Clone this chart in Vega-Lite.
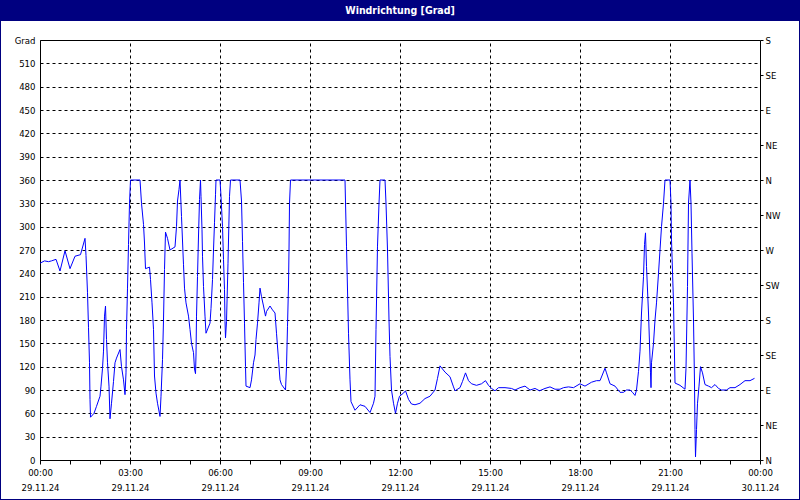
{
  "$schema": "https://vega.github.io/schema/vega-lite/v6.json",
  "width": 798,
  "height": 478,
  "autosize": {"type": "none"},
  "padding": {"left": 1, "top": 21, "right": 1, "bottom": 1},
  "background": "#000080",
  "view": {"fill": "white", "stroke": null},
  "title": {"text": "Windrichtung [Grad]", "color": "white", "fontSize": 10.5, "fontWeight": "bold", "font": "DejaVu Sans Condensed, Liberation Sans", "anchor": "middle", "baseline": "middle", "offset": 0},
  "config": {
    "font": "DejaVu Sans Condensed, Liberation Sans",
    "axis": {"labelFont": "DejaVu Sans Condensed, Liberation Sans", "labelFontSize": 9.5, "labelColor": "black", "domainColor": "black", "tickColor": "black", "title": null, "labelOverlap": false, "labelFlush": false, "labelBound": false}
  },
  "data": {"values": [
    {"t":"2024-11-29T00:00Z","v":253},{"t":"2024-11-29T00:09Z","v":256},{"t":"2024-11-29T00:17Z","v":255},{"t":"2024-11-29T00:23Z","v":256},
    {"t":"2024-11-29T00:32Z","v":258},{"t":"2024-11-29T00:40Z","v":243},{"t":"2024-11-29T00:50Z","v":269},{"t":"2024-11-29T01:00Z","v":246},
    {"t":"2024-11-29T01:10Z","v":262},{"t":"2024-11-29T01:21Z","v":264},{"t":"2024-11-29T01:30Z","v":285},{"t":"2024-11-29T01:32Z","v":263},
    {"t":"2024-11-29T01:35Z","v":215},{"t":"2024-11-29T01:37Z","v":170},{"t":"2024-11-29T01:39Z","v":125},{"t":"2024-11-29T01:40Z","v":78},
    {"t":"2024-11-29T01:41Z","v":55},{"t":"2024-11-29T01:48Z","v":60},{"t":"2024-11-29T01:53Z","v":69},{"t":"2024-11-29T02:00Z","v":82},
    {"t":"2024-11-29T02:02Z","v":95},{"t":"2024-11-29T02:05Z","v":118},{"t":"2024-11-29T02:07Z","v":140},{"t":"2024-11-29T02:09Z","v":185},
    {"t":"2024-11-29T02:11Z","v":198},{"t":"2024-11-29T02:13Z","v":155},{"t":"2024-11-29T02:15Z","v":125},{"t":"2024-11-29T02:18Z","v":95},
    {"t":"2024-11-29T02:20Z","v":53},{"t":"2024-11-29T02:23Z","v":73},{"t":"2024-11-29T02:27Z","v":101},{"t":"2024-11-29T02:30Z","v":125},
    {"t":"2024-11-29T02:33Z","v":131},{"t":"2024-11-29T02:40Z","v":142},{"t":"2024-11-29T02:43Z","v":120},{"t":"2024-11-29T02:47Z","v":103},
    {"t":"2024-11-29T02:50Z","v":84},{"t":"2024-11-29T02:52Z","v":112},{"t":"2024-11-29T02:53Z","v":168},{"t":"2024-11-29T02:55Z","v":221},
    {"t":"2024-11-29T02:57Z","v":277},{"t":"2024-11-29T02:59Z","v":330},{"t":"2024-11-29T03:01Z","v":360},{"t":"2024-11-29T03:20Z","v":360},
    {"t":"2024-11-29T03:23Z","v":330},{"t":"2024-11-29T03:27Z","v":303},{"t":"2024-11-29T03:29Z","v":279},{"t":"2024-11-29T03:31Z","v":246},
    {"t":"2024-11-29T03:39Z","v":248},{"t":"2024-11-29T03:41Z","v":232},{"t":"2024-11-29T03:44Z","v":202},{"t":"2024-11-29T03:47Z","v":168},
    {"t":"2024-11-29T03:49Z","v":108},{"t":"2024-11-29T03:52Z","v":86},{"t":"2024-11-29T03:55Z","v":73},{"t":"2024-11-29T04:00Z","v":56},
    {"t":"2024-11-29T04:02Z","v":82},{"t":"2024-11-29T04:05Z","v":129},{"t":"2024-11-29T04:07Z","v":180},{"t":"2024-11-29T04:09Z","v":245},
    {"t":"2024-11-29T04:11Z","v":293},{"t":"2024-11-29T04:15Z","v":285},{"t":"2024-11-29T04:20Z","v":270},{"t":"2024-11-29T04:30Z","v":274},
    {"t":"2024-11-29T04:33Z","v":300},{"t":"2024-11-29T04:35Z","v":333},{"t":"2024-11-29T04:38Z","v":348},{"t":"2024-11-29T04:40Z","v":360},
    {"t":"2024-11-29T04:43Z","v":313},{"t":"2024-11-29T04:47Z","v":251},{"t":"2024-11-29T04:49Z","v":221},{"t":"2024-11-29T04:52Z","v":202},
    {"t":"2024-11-29T04:57Z","v":185},{"t":"2024-11-29T05:00Z","v":168},{"t":"2024-11-29T05:03Z","v":150},{"t":"2024-11-29T05:07Z","v":138},
    {"t":"2024-11-29T05:09Z","v":117},{"t":"2024-11-29T05:11Z","v":111},{"t":"2024-11-29T05:12Z","v":135},{"t":"2024-11-29T05:13Z","v":185},
    {"t":"2024-11-29T05:15Z","v":236},{"t":"2024-11-29T05:17Z","v":288},{"t":"2024-11-29T05:19Z","v":335},{"t":"2024-11-29T05:21Z","v":360},
    {"t":"2024-11-29T05:22Z","v":339},{"t":"2024-11-29T05:24Z","v":296},{"t":"2024-11-29T05:25Z","v":262},{"t":"2024-11-29T05:27Z","v":223},
    {"t":"2024-11-29T05:30Z","v":185},{"t":"2024-11-29T05:32Z","v":163},{"t":"2024-11-29T05:40Z","v":176},{"t":"2024-11-29T05:42Z","v":195},
    {"t":"2024-11-29T05:45Z","v":232},{"t":"2024-11-29T05:47Z","v":270},{"t":"2024-11-29T05:49Z","v":305},{"t":"2024-11-29T05:51Z","v":341},
    {"t":"2024-11-29T05:52Z","v":360},{"t":"2024-11-29T06:00Z","v":360},{"t":"2024-11-29T06:02Z","v":339},{"t":"2024-11-29T06:05Z","v":300},
    {"t":"2024-11-29T06:07Z","v":258},{"t":"2024-11-29T06:09Z","v":219},{"t":"2024-11-29T06:10Z","v":178},{"t":"2024-11-29T06:11Z","v":157},
    {"t":"2024-11-29T06:13Z","v":178},{"t":"2024-11-29T06:16Z","v":253},{"t":"2024-11-29T06:19Z","v":339},{"t":"2024-11-29T06:21Z","v":360},
    {"t":"2024-11-29T06:40Z","v":360},{"t":"2024-11-29T06:43Z","v":333},{"t":"2024-11-29T06:45Z","v":281},{"t":"2024-11-29T06:47Z","v":228},
    {"t":"2024-11-29T06:49Z","v":176},{"t":"2024-11-29T06:51Z","v":120},{"t":"2024-11-29T06:52Z","v":95},{"t":"2024-11-29T07:00Z","v":93},
    {"t":"2024-11-29T07:03Z","v":103},{"t":"2024-11-29T07:07Z","v":125},{"t":"2024-11-29T07:10Z","v":135},{"t":"2024-11-29T07:12Z","v":155},
    {"t":"2024-11-29T07:15Z","v":176},{"t":"2024-11-29T07:18Z","v":202},{"t":"2024-11-29T07:20Z","v":221},{"t":"2024-11-29T07:23Z","v":210},
    {"t":"2024-11-29T07:27Z","v":198},{"t":"2024-11-29T07:31Z","v":185},{"t":"2024-11-29T07:33Z","v":191},{"t":"2024-11-29T07:40Z","v":198},
    {"t":"2024-11-29T07:45Z","v":193},{"t":"2024-11-29T07:50Z","v":189},{"t":"2024-11-29T07:53Z","v":163},{"t":"2024-11-29T07:57Z","v":129},
    {"t":"2024-11-29T08:00Z","v":103},{"t":"2024-11-29T08:03Z","v":97},{"t":"2024-11-29T08:11Z","v":90},{"t":"2024-11-29T08:13Z","v":120},
    {"t":"2024-11-29T08:15Z","v":172},{"t":"2024-11-29T08:17Z","v":225},{"t":"2024-11-29T08:18Z","v":270},{"t":"2024-11-29T08:19Z","v":330},
    {"t":"2024-11-29T08:21Z","v":360},{"t":"2024-11-29T10:10Z","v":360},{"t":"2024-11-29T10:13Z","v":275},{"t":"2024-11-29T10:17Z","v":163},
    {"t":"2024-11-29T10:20Z","v":103},{"t":"2024-11-29T10:22Z","v":75},{"t":"2024-11-29T10:30Z","v":64},{"t":"2024-11-29T10:40Z","v":71},
    {"t":"2024-11-29T10:50Z","v":69},{"t":"2024-11-29T11:00Z","v":61},{"t":"2024-11-29T11:07Z","v":73},{"t":"2024-11-29T11:10Z","v":82},
    {"t":"2024-11-29T11:12Z","v":168},{"t":"2024-11-29T11:15Z","v":275},{"t":"2024-11-29T11:18Z","v":330},{"t":"2024-11-29T11:20Z","v":360},
    {"t":"2024-11-29T11:30Z","v":360},{"t":"2024-11-29T11:32Z","v":330},{"t":"2024-11-29T11:35Z","v":270},{"t":"2024-11-29T11:38Z","v":180},
    {"t":"2024-11-29T11:40Z","v":133},{"t":"2024-11-29T11:43Z","v":90},{"t":"2024-11-29T11:47Z","v":73},{"t":"2024-11-29T11:51Z","v":60},
    {"t":"2024-11-29T11:55Z","v":73},{"t":"2024-11-29T11:59Z","v":82},{"t":"2024-11-29T12:07Z","v":86},{"t":"2024-11-29T12:11Z","v":89},
    {"t":"2024-11-29T12:17Z","v":78},{"t":"2024-11-29T12:23Z","v":72},{"t":"2024-11-29T12:30Z","v":71},{"t":"2024-11-29T12:40Z","v":73},
    {"t":"2024-11-29T12:50Z","v":79},{"t":"2024-11-29T13:00Z","v":82},{"t":"2024-11-29T13:10Z","v":90},{"t":"2024-11-29T13:15Z","v":105},
    {"t":"2024-11-29T13:20Z","v":121},{"t":"2024-11-29T13:30Z","v":113},{"t":"2024-11-29T13:40Z","v":107},{"t":"2024-11-29T13:47Z","v":94},
    {"t":"2024-11-29T13:50Z","v":89},{"t":"2024-11-29T14:00Z","v":93},{"t":"2024-11-29T14:05Z","v":101},{"t":"2024-11-29T14:11Z","v":112},
    {"t":"2024-11-29T14:17Z","v":102},{"t":"2024-11-29T14:23Z","v":98},{"t":"2024-11-29T14:33Z","v":96},{"t":"2024-11-29T14:43Z","v":98},
    {"t":"2024-11-29T14:51Z","v":102},{"t":"2024-11-29T14:57Z","v":96},{"t":"2024-11-29T15:03Z","v":92},{"t":"2024-11-29T15:10Z","v":89},
    {"t":"2024-11-29T15:17Z","v":93},{"t":"2024-11-29T15:30Z","v":93},{"t":"2024-11-29T15:43Z","v":92},{"t":"2024-11-29T15:50Z","v":90},
    {"t":"2024-11-29T16:00Z","v":93},{"t":"2024-11-29T16:10Z","v":95},{"t":"2024-11-29T16:20Z","v":90},{"t":"2024-11-29T16:30Z","v":92},
    {"t":"2024-11-29T16:39Z","v":89},{"t":"2024-11-29T16:50Z","v":92},{"t":"2024-11-29T17:00Z","v":94},{"t":"2024-11-29T17:10Z","v":91},
    {"t":"2024-11-29T17:20Z","v":91},{"t":"2024-11-29T17:27Z","v":93},{"t":"2024-11-29T17:37Z","v":94},{"t":"2024-11-29T17:47Z","v":93},
    {"t":"2024-11-29T18:00Z","v":98},{"t":"2024-11-29T18:10Z","v":95},{"t":"2024-11-29T18:23Z","v":100},{"t":"2024-11-29T18:33Z","v":102},
    {"t":"2024-11-29T18:40Z","v":102},{"t":"2024-11-29T18:50Z","v":118},{"t":"2024-11-29T18:53Z","v":112},{"t":"2024-11-29T19:00Z","v":98},
    {"t":"2024-11-29T19:10Z","v":95},{"t":"2024-11-29T19:20Z","v":87},{"t":"2024-11-29T19:27Z","v":87},{"t":"2024-11-29T19:33Z","v":90},
    {"t":"2024-11-29T19:40Z","v":90},{"t":"2024-11-29T19:45Z","v":87},{"t":"2024-11-29T19:50Z","v":83},{"t":"2024-11-29T19:53Z","v":90},
    {"t":"2024-11-29T19:57Z","v":114},{"t":"2024-11-29T20:00Z","v":140},{"t":"2024-11-29T20:03Z","v":189},{"t":"2024-11-29T20:07Z","v":236},
    {"t":"2024-11-29T20:09Z","v":277},{"t":"2024-11-29T20:11Z","v":292},{"t":"2024-11-29T20:13Z","v":249},{"t":"2024-11-29T20:17Z","v":189},
    {"t":"2024-11-29T20:19Z","v":150},{"t":"2024-11-29T20:21Z","v":112},{"t":"2024-11-29T20:22Z","v":93},{"t":"2024-11-29T20:23Z","v":125},
    {"t":"2024-11-29T20:27Z","v":150},{"t":"2024-11-29T20:30Z","v":180},{"t":"2024-11-29T20:33Z","v":202},{"t":"2024-11-29T20:37Z","v":240},
    {"t":"2024-11-29T20:40Z","v":270},{"t":"2024-11-29T20:43Z","v":300},{"t":"2024-11-29T20:47Z","v":330},{"t":"2024-11-29T20:50Z","v":360},
    {"t":"2024-11-29T21:00Z","v":360},{"t":"2024-11-29T21:02Z","v":330},{"t":"2024-11-29T21:03Z","v":283},{"t":"2024-11-29T21:07Z","v":202},
    {"t":"2024-11-29T21:10Z","v":99},{"t":"2024-11-29T21:20Z","v":96},{"t":"2024-11-29T21:30Z","v":91},{"t":"2024-11-29T21:32Z","v":118},
    {"t":"2024-11-29T21:35Z","v":223},{"t":"2024-11-29T21:37Z","v":330},{"t":"2024-11-29T21:40Z","v":360},{"t":"2024-11-29T21:42Z","v":330},
    {"t":"2024-11-29T21:44Z","v":266},{"t":"2024-11-29T21:47Z","v":180},{"t":"2024-11-29T21:49Z","v":99},{"t":"2024-11-29T21:50Z","v":39},
    {"t":"2024-11-29T21:51Z","v":4},{"t":"2024-11-29T21:53Z","v":39},{"t":"2024-11-29T21:55Z","v":73},{"t":"2024-11-29T21:58Z","v":95},
    {"t":"2024-11-29T22:01Z","v":120},{"t":"2024-11-29T22:05Z","v":112},{"t":"2024-11-29T22:10Z","v":97},{"t":"2024-11-29T22:17Z","v":95},
    {"t":"2024-11-29T22:23Z","v":93},{"t":"2024-11-29T22:30Z","v":97},{"t":"2024-11-29T22:37Z","v":92},{"t":"2024-11-29T22:43Z","v":90},
    {"t":"2024-11-29T22:53Z","v":90},{"t":"2024-11-29T23:00Z","v":93},{"t":"2024-11-29T23:10Z","v":93},{"t":"2024-11-29T23:20Z","v":97},
    {"t":"2024-11-29T23:30Z","v":102},{"t":"2024-11-29T23:40Z","v":102},{"t":"2024-11-29T23:49Z","v":105}
  ]},
  "layer": [
    {
      "mark": {"type": "line", "color": "#0000FF", "strokeWidth": 1},
      "encoding": {
        "x": {
          "field": "t", "type": "temporal",
          "scale": {"type": "utc", "range": [39, 759], "domain": [{"year": 2024, "month": 11, "date": 29, "utc": true}, {"year": 2024, "month": 11, "date": 30, "utc": true}]},
          "axis": {
            "orient": "bottom", "offset": -39, "grid": false,
            "values": [
              {"year": 2024, "month": 11, "date": 29, "hours": 0, "utc": true}, {"year": 2024, "month": 11, "date": 29, "hours": 1, "utc": true},
              {"year": 2024, "month": 11, "date": 29, "hours": 2, "utc": true}, {"year": 2024, "month": 11, "date": 29, "hours": 3, "utc": true},
              {"year": 2024, "month": 11, "date": 29, "hours": 4, "utc": true}, {"year": 2024, "month": 11, "date": 29, "hours": 5, "utc": true},
              {"year": 2024, "month": 11, "date": 29, "hours": 6, "utc": true}, {"year": 2024, "month": 11, "date": 29, "hours": 7, "utc": true},
              {"year": 2024, "month": 11, "date": 29, "hours": 8, "utc": true}, {"year": 2024, "month": 11, "date": 29, "hours": 9, "utc": true},
              {"year": 2024, "month": 11, "date": 29, "hours": 10, "utc": true}, {"year": 2024, "month": 11, "date": 29, "hours": 11, "utc": true},
              {"year": 2024, "month": 11, "date": 29, "hours": 12, "utc": true}, {"year": 2024, "month": 11, "date": 29, "hours": 13, "utc": true},
              {"year": 2024, "month": 11, "date": 29, "hours": 14, "utc": true}, {"year": 2024, "month": 11, "date": 29, "hours": 15, "utc": true},
              {"year": 2024, "month": 11, "date": 29, "hours": 16, "utc": true}, {"year": 2024, "month": 11, "date": 29, "hours": 17, "utc": true},
              {"year": 2024, "month": 11, "date": 29, "hours": 18, "utc": true}, {"year": 2024, "month": 11, "date": 29, "hours": 19, "utc": true},
              {"year": 2024, "month": 11, "date": 29, "hours": 20, "utc": true}, {"year": 2024, "month": 11, "date": 29, "hours": 21, "utc": true},
              {"year": 2024, "month": 11, "date": 29, "hours": 22, "utc": true}, {"year": 2024, "month": 11, "date": 29, "hours": 23, "utc": true},
              {"year": 2024, "month": 11, "date": 30, "hours": 0, "utc": true}
            ],
            "labelExpr": "utchours(datum.value) % 3 == 0 ? [utcFormat(datum.value, '%H:%M'), utcFormat(datum.value, '%d.%m.%y')] : ''",
            "tickSize": 4, "labelPadding": 3, "labelLineHeight": 15
          }
        },
        "y": {
          "field": "v", "type": "quantitative",
          "scale": {"domain": [0, 540], "range": [439, 19], "nice": false, "zero": false},
          "axis": {
            "orient": "left", "offset": -39,
            "values": [0, 30, 60, 90, 120, 150, 180, 210, 240, 270, 300, 330, 360, 390, 420, 450, 480, 510, 540],
            "labelExpr": "datum.value == 540 ? 'Grad' : datum.label",
            "grid": true, "gridDash": [3, 3], "gridColor": "black", "gridOpacity": 1,
            "ticks": false, "labelPadding": 5
          }
        }
      }
    },
    {
      "mark": {"type": "line", "opacity": 0},
      "encoding": {
        "x": {
          "field": "t", "type": "temporal",
          "axis": {
            "orient": "top", "offset": -19, "labels": false, "ticks": false,
            "values": [
              {"year": 2024, "month": 11, "date": 29, "hours": 3, "utc": true}, {"year": 2024, "month": 11, "date": 29, "hours": 6, "utc": true},
              {"year": 2024, "month": 11, "date": 29, "hours": 9, "utc": true}, {"year": 2024, "month": 11, "date": 29, "hours": 12, "utc": true},
              {"year": 2024, "month": 11, "date": 29, "hours": 15, "utc": true}, {"year": 2024, "month": 11, "date": 29, "hours": 18, "utc": true},
              {"year": 2024, "month": 11, "date": 29, "hours": 21, "utc": true}
            ],
            "grid": true, "gridDash": [3, 3], "gridColor": "black", "gridOpacity": 1
          }
        },
        "y": {
          "field": "v", "type": "quantitative",
          "axis": {
            "orient": "right", "offset": -39,
            "values": [0, 45, 90, 135, 180, 225, 270, 315, 360, 405, 450, 495, 540],
            "labelExpr": "['N','NE','E','SE','S','SW','W','NW','N','NE','E','SE','S'][round(datum.value / 45)]",
            "grid": false, "tickSize": 3, "labelPadding": 2
          }
        }
      }
    }
  ],
  "resolve": {"axis": {"x": "independent", "y": "independent"}}
}
